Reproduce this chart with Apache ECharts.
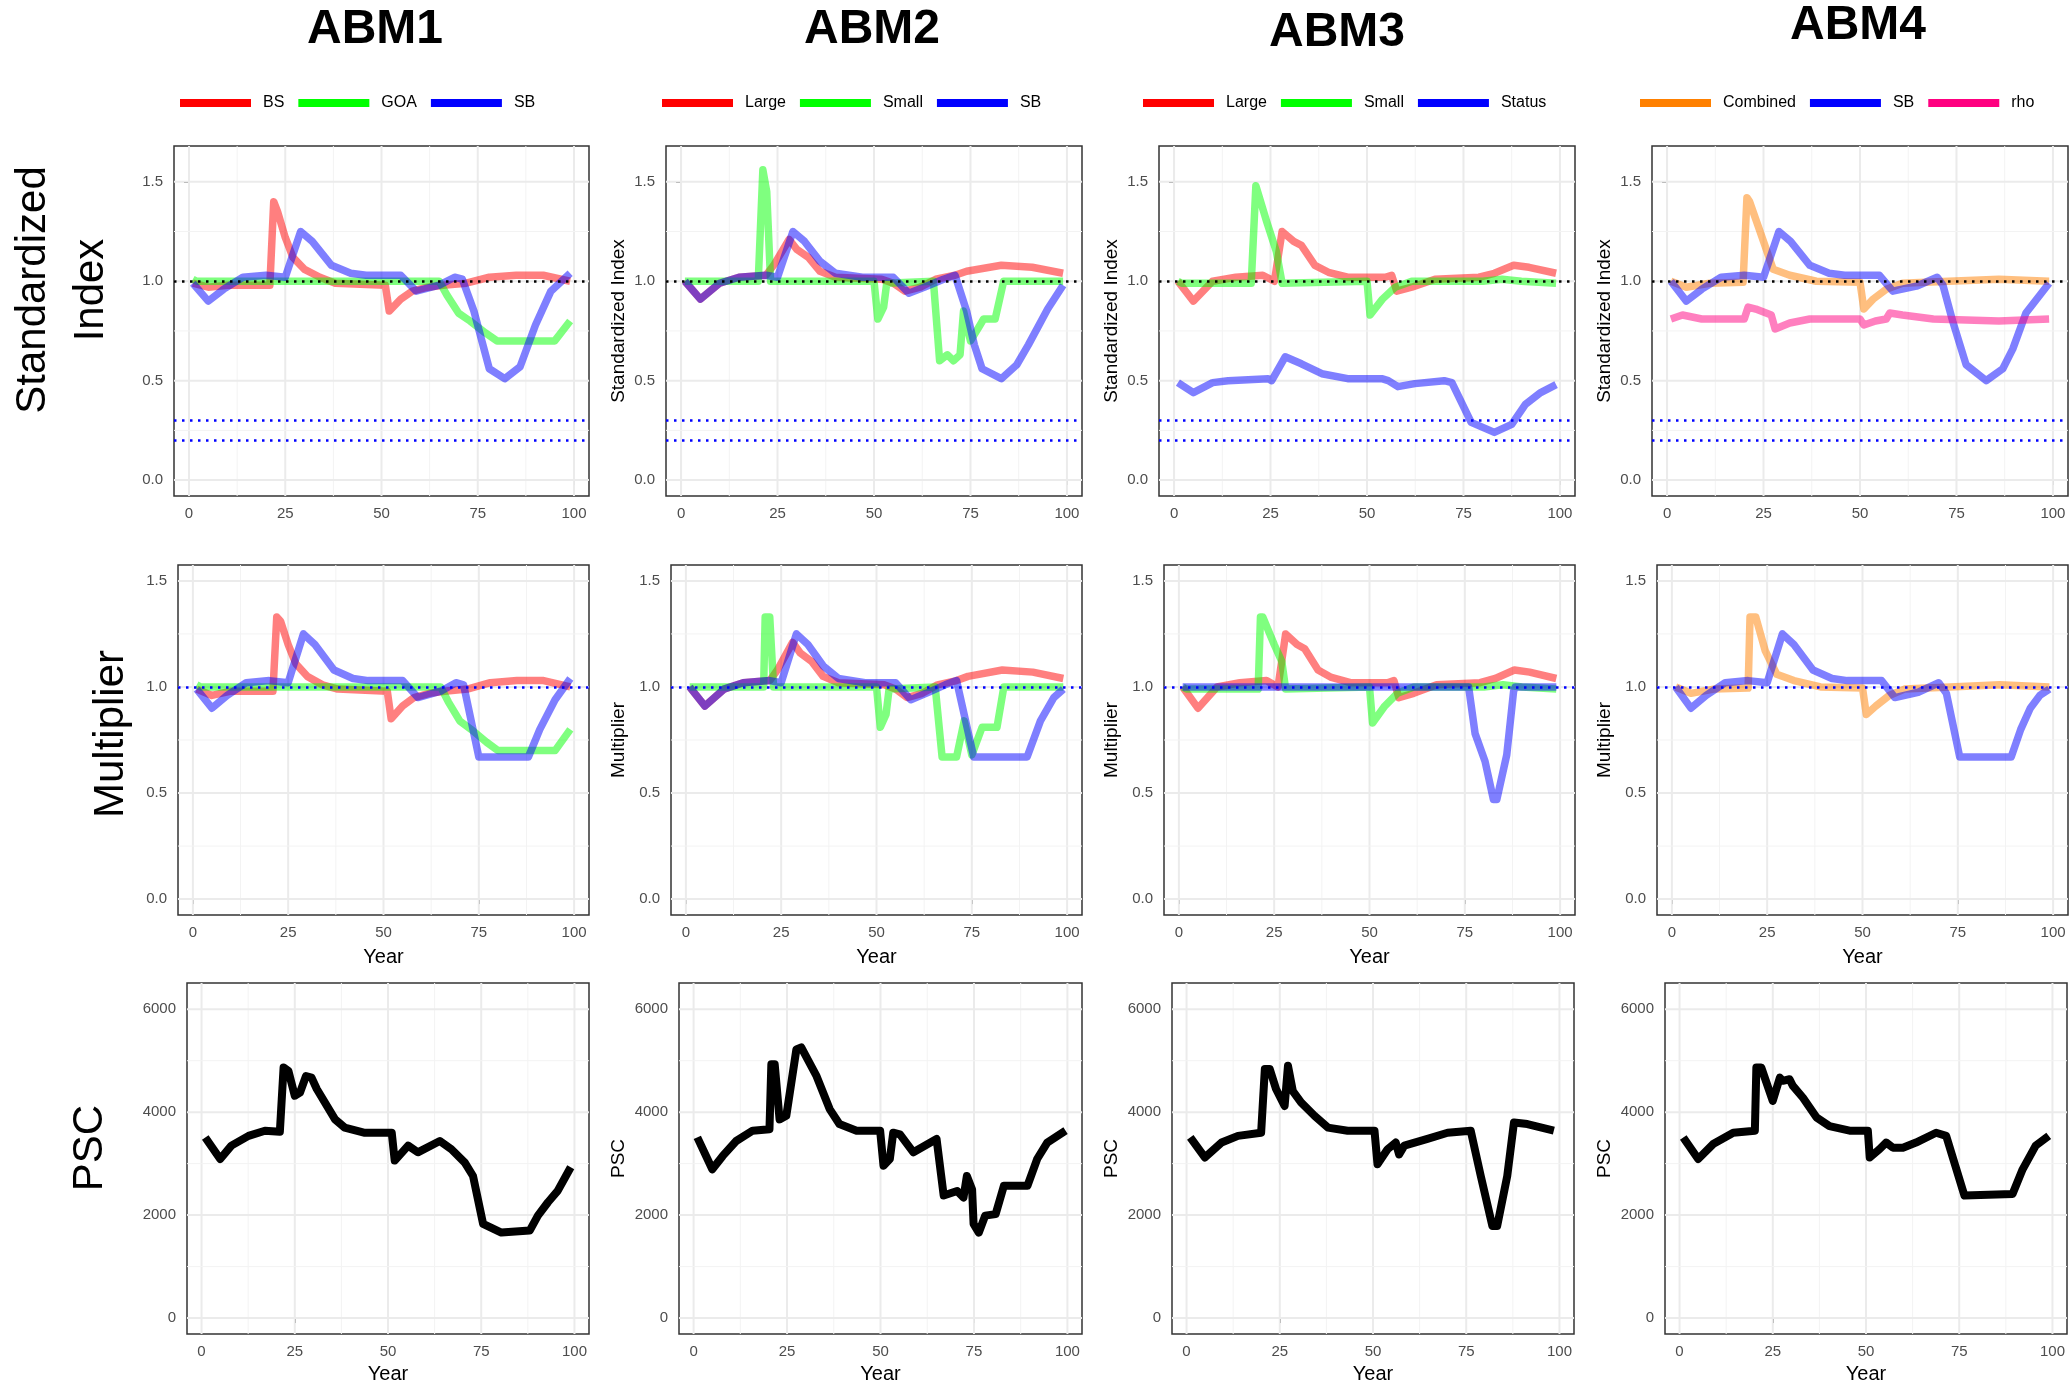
<!DOCTYPE html>
<html>
<head>
<meta charset="utf-8">
<script src="https://cdn.jsdelivr.net/npm/echarts@6/dist/echarts.min.js"></script>
<style>
  html, body { margin: 0; padding: 0; background: #fff; }
  #chart { width: 2069px; height: 1391px; }
</style>
</head>
<body>
<div id="chart"></div>
<script>
// tick labels
const yearTicks = [0, 25, 50, 75, 100]
const yearMinor = [12.5, 37.5, 62.5, 87.5]
const ratioTicks = [0, 0.5, 1, 1.5]
const ratioMinor = [0.25, 0.75, 1.25]
const pscTicks = [0, 2000, 4000, 6000]
const pscMinor = [1000, 3000, 5000]

const modelNames = ['ABM1', 'ABM2', 'ABM3', 'ABM4']
const legendNames = [
  ['BS', 'GOA', 'SB'],
  ['Large', 'Small', 'SB'],
  ['Large', 'Small', 'Status'],
  ['Combined', 'SB', 'rho']
]

// ---- ABM1 ----
const abm1IdxBS = [[1, 0.99], [5, 0.97], [10, 0.98], [21, 0.98], [22, 1.40], [23, 1.35], [25, 1.22], [27, 1.12], [30, 1.06], [34, 1.02], [38, 0.99], [51, 0.98], [52, 0.85], [55, 0.91], [58, 0.95], [62, 0.97], [66, 0.98], [72, 0.99], [78, 1.02], [85, 1.03], [92, 1.03], [99, 1.00]]
const abm1IdxGOA = [[1, 1.01], [2, 1.0], [65, 1.0], [67, 0.93], [70, 0.84], [73, 0.80], [77, 0.74], [80, 0.70], [95, 0.70], [99, 0.80]]
const abm1IdxSB = [[1, 0.99], [5, 0.90], [9, 0.96], [14, 1.02], [20, 1.03], [25, 1.02], [29, 1.25], [32, 1.20], [37, 1.08], [42, 1.04], [46, 1.03], [55, 1.03], [59, 0.95], [65, 0.98], [69, 1.02], [71, 1.01], [74, 0.85], [78, 0.56], [82, 0.51], [86, 0.57], [90, 0.78], [94, 0.95], [99, 1.04]]
const abm1MulBS = [[1, 0.99], [5, 0.96], [10, 0.98], [21, 0.98], [22, 1.33], [23, 1.31], [25, 1.20], [27, 1.11], [30, 1.05], [34, 1.01], [38, 0.99], [51, 0.98], [52, 0.85], [55, 0.91], [58, 0.95], [62, 0.97], [66, 0.98], [72, 0.99], [78, 1.02], [85, 1.03], [92, 1.03], [99, 1.00]]
const abm1MulGOA = [[1, 1.01], [2, 1.0], [65, 1.0], [67, 0.93], [70, 0.84], [73, 0.80], [77, 0.74], [80, 0.70], [95, 0.70], [99, 0.80]]
const abm1MulSB = [[1, 0.99], [5, 0.90], [9, 0.96], [14, 1.02], [20, 1.03], [25, 1.02], [29, 1.25], [32, 1.20], [37, 1.08], [42, 1.04], [46, 1.03], [55, 1.03], [59, 0.95], [65, 0.98], [69, 1.02], [71, 1.01], [75, 0.67], [88, 0.67], [91, 0.80], [95, 0.94], [99, 1.04]]
const abm1PSC = [[1, 3510], [5, 3090], [8, 3350], [12.6, 3540], [17, 3640], [21, 3620], [22, 4870], [23.3, 4800], [25, 4320], [26.4, 4380], [28, 4700], [29.5, 4670], [30.9, 4450], [35.8, 3860], [38.4, 3700], [43.8, 3600], [51, 3600], [51.8, 3060], [55.4, 3350], [58, 3220], [63.9, 3440], [67, 3280], [70.6, 3020], [72.8, 2760], [75.5, 1830], [80.4, 1660], [88, 1700], [90.2, 1990], [92.9, 2250], [95.5, 2470], [99, 2930]]

// ---- ABM2 ----
const abm2IdxLarge = [[1, 1.0], [5, 0.91], [10, 0.99], [15, 1.02], [22, 1.03], [24, 1.08], [28, 1.21], [30, 1.16], [33, 1.12], [36, 1.05], [40, 1.02], [52, 1.01], [55, 0.99], [58, 0.95], [62, 0.97], [66, 1.01], [71, 1.03], [74, 1.05], [83, 1.08], [91, 1.07], [99, 1.04]]
const abm2IdxSmall = [[1, 1.0], [20, 1.0], [21.2, 1.56], [22.2, 1.45], [23.2, 1.0], [50, 1.0], [51, 0.81], [52.5, 0.87], [53.3, 0.99], [65.4, 1.0], [67, 0.60], [69, 0.63], [70.6, 0.60], [72.3, 0.63], [73.2, 0.85], [75, 0.70], [77.5, 0.78], [78.4, 0.81], [81.4, 0.81], [83.6, 1.0], [99, 1.0]]
const abm2IdxSB = [[1, 1.0], [5, 0.91], [10, 0.99], [15, 1.02], [22, 1.03], [25, 1.02], [29, 1.25], [32, 1.20], [36, 1.10], [40, 1.04], [47, 1.02], [55, 1.02], [59, 0.94], [63, 0.97], [68, 1.01], [71, 1.03], [74, 0.85], [76, 0.68], [78, 0.56], [83, 0.51], [87, 0.58], [90, 0.68], [95, 0.86], [99, 0.98]]
const abm2MulLarge = [[1, 1.0], [5, 0.91], [10, 0.99], [15, 1.02], [22, 1.03], [24, 1.08], [28, 1.21], [30, 1.16], [33, 1.12], [36, 1.05], [40, 1.02], [52, 1.01], [55, 0.99], [58, 0.95], [62, 0.97], [66, 1.01], [71, 1.03], [74, 1.05], [83, 1.08], [91, 1.07], [99, 1.04]]
const abm2MulSmall = [[1, 1.0], [20.4, 1.0], [20.8, 1.33], [22, 1.33], [23, 1.0], [50, 1.0], [51, 0.81], [52.5, 0.87], [53.3, 0.99], [65.4, 1.0], [67.2, 0.67], [71, 0.67], [73, 0.84], [75, 0.68], [77.7, 0.81], [81.6, 0.81], [83.4, 1.0], [99, 1.0]]
const abm2MulSB = [[1, 1.0], [5, 0.91], [10, 0.99], [15, 1.02], [22, 1.03], [25, 1.02], [29, 1.25], [32, 1.20], [36, 1.10], [40, 1.04], [47, 1.02], [55, 1.02], [59, 0.94], [63, 0.97], [68, 1.01], [71, 1.03], [75.5, 0.67], [89.5, 0.67], [93, 0.84], [96.5, 0.95], [99, 0.99]]
const abm2PSC = [[1, 3510], [5, 2890], [7.8, 3150], [11.4, 3440], [15.8, 3640], [20.3, 3670], [20.8, 4930], [21.7, 4930], [23, 3860], [24.8, 3930], [27.5, 5220], [28.8, 5260], [32.9, 4700], [36.4, 4060], [39, 3770], [43.6, 3640], [49.9, 3640], [50.8, 2960], [52.5, 3090], [53.4, 3600], [55.2, 3570], [58.8, 3220], [65, 3480], [66.9, 2380], [70.5, 2470], [72.2, 2340], [73.1, 2760], [74.5, 2500], [74.9, 1830], [76.3, 1660], [78, 1990], [80.8, 2020], [83, 2570], [89.3, 2570], [91.9, 3090], [94.6, 3410], [99.5, 3640]]

// ---- ABM3 ----
const abm3IdxLarge = [[1, 1.0], [5, 0.90], [10, 1.0], [16, 1.02], [23, 1.03], [26, 1.0], [28, 1.25], [31, 1.20], [33, 1.18], [36.5, 1.08], [40, 1.045], [45, 1.02], [54.7, 1.02], [56.4, 1.03], [57.7, 0.95], [61.6, 0.97], [67.6, 1.01], [79, 1.02], [83, 1.04], [88, 1.08], [92, 1.07], [99, 1.04]]
const abm3IdxSmall = [[1, 1.0], [2, 0.99], [20, 0.99], [21.2, 1.48], [24, 1.30], [26.5, 1.15], [28, 0.99], [50, 1.0], [50.8, 0.83], [54, 0.91], [57.3, 0.97], [61.6, 1.0], [80, 1.0], [85, 1.01], [90, 1.0], [99, 0.99]]
const abm3IdxStatus = [[1, 0.49], [5, 0.44], [10, 0.49], [14, 0.50], [24.4, 0.51], [25.3, 0.50], [28.8, 0.62], [33, 0.585], [38.3, 0.535], [45, 0.51], [53.8, 0.51], [55.5, 0.50], [58, 0.47], [62.4, 0.485], [70, 0.50], [72, 0.49], [77, 0.29], [83, 0.24], [87.5, 0.28], [91, 0.38], [95, 0.44], [99, 0.48]]
const abm3MulLarge = [[1, 1.0], [5, 0.90], [10, 1.0], [16, 1.02], [23, 1.03], [26, 1.0], [28, 1.25], [31, 1.20], [33, 1.18], [36.5, 1.08], [40, 1.045], [45, 1.02], [54.7, 1.02], [56.4, 1.03], [57.7, 0.95], [61.6, 0.97], [67.6, 1.01], [79, 1.02], [83, 1.04], [88, 1.08], [92, 1.07], [99, 1.04]]
const abm3MulSmall = [[1, 1.0], [2, 0.99], [20.8, 0.99], [21.4, 1.33], [22, 1.33], [25, 1.20], [27, 1.12], [28, 0.99], [50, 1.0], [50.8, 0.83], [54, 0.91], [57.3, 0.97], [61.6, 1.0], [80, 1.0], [85, 1.01], [90, 1.0], [99, 0.99]]
const abm3MulStatus = [[1, 1.0], [76, 1.0], [77.7, 0.78], [80.3, 0.65], [82.5, 0.47], [83.4, 0.47], [86, 0.68], [87.8, 0.98], [88.2, 1.0], [99, 1.0]]
const abm3PSC = [[1, 3510], [4.9, 3120], [9.4, 3410], [13.8, 3540], [20, 3600], [21, 4840], [22.3, 4840], [24, 4450], [26.3, 4120], [27.2, 4900], [28.5, 4410], [30.7, 4190], [34.3, 3930], [37.9, 3700], [43.2, 3640], [50.4, 3640], [51.2, 2990], [53.9, 3280], [56.1, 3410], [57, 3180], [58.4, 3350], [64.6, 3480], [70, 3600], [76.2, 3640], [78.9, 2760], [82, 1790], [83.3, 1790], [86, 2760], [87.8, 3800], [91.4, 3770], [98.5, 3640]]

// ---- ABM4 ----
const abm4IdxCombined = [[1, 1.0], [5, 0.97], [11, 0.99], [19.7, 0.995], [20.7, 1.42], [21.4, 1.40], [25, 1.20], [27.5, 1.06], [31.8, 1.03], [38.7, 1.0], [50, 0.995], [51, 0.86], [53.4, 0.91], [56.8, 0.96], [61, 0.99], [73, 1.0], [86, 1.01], [99, 1.0]]
const abm4IdxSB = [[1, 1.0], [5, 0.90], [9, 0.96], [14, 1.02], [20, 1.03], [25, 1.02], [29, 1.25], [32, 1.20], [37, 1.08], [42, 1.04], [46, 1.03], [55, 1.03], [58.5, 0.95], [64.6, 0.975], [70, 1.02], [71.5, 0.98], [74, 0.80], [77.5, 0.58], [82.7, 0.50], [87, 0.56], [89.6, 0.66], [93, 0.84], [99, 0.99]]
const abm4IdxRho = [[1, 0.81], [4, 0.83], [9, 0.81], [20, 0.81], [21, 0.87], [23, 0.86], [27, 0.83], [28, 0.76], [31.8, 0.79], [37, 0.81], [50, 0.81], [51, 0.78], [54, 0.80], [56.8, 0.81], [57.7, 0.84], [61, 0.83], [69, 0.81], [86, 0.80], [99, 0.81]]
const abm4MulCombined = [[1, 1.0], [5, 0.97], [11, 0.99], [20, 0.995], [20.5, 1.33], [22, 1.33], [24.5, 1.17], [27.5, 1.06], [32, 1.03], [39, 1.0], [50, 0.995], [51, 0.87], [53.5, 0.91], [57, 0.96], [61, 0.99], [73, 1.0], [86, 1.01], [99, 1.0]]
const abm4MulSB = [[1, 1.0], [5, 0.90], [9, 0.96], [14, 1.02], [20, 1.03], [25, 1.02], [29, 1.25], [32, 1.20], [37, 1.08], [42, 1.04], [46, 1.03], [55, 1.03], [58.5, 0.95], [64.6, 0.975], [70, 1.02], [72, 0.97], [75.5, 0.67], [89, 0.67], [91.5, 0.80], [94, 0.90], [96.5, 0.96], [99, 0.99]]
const abm4PSC = [[1, 3510], [5, 3090], [9, 3380], [14.4, 3600], [20.2, 3640], [20.6, 4870], [21.9, 4870], [25, 4220], [26.9, 4670], [27.7, 4610], [29.5, 4640], [30.4, 4510], [33.1, 4280], [36.7, 3900], [40.2, 3730], [45.6, 3640], [50.5, 3640], [51, 3120], [53.6, 3280], [55.4, 3410], [57.2, 3310], [59.9, 3310], [63.4, 3410], [68.8, 3600], [71.5, 3540], [76.4, 2380], [89.3, 2410], [92, 2890], [95.5, 3350], [99, 3540]]

const colors = {
  BS: '#FF0000', GOA: '#00FF00', SB: '#0000FF', Large: '#FF0000', Small: '#00FF00',
  Status: '#0000FF', Combined: '#FF8000', rho: '#FF0080', PSC: '#000000'
}

// panel contents: [row][col] -> list of [name, data]
const panels = [
  [
    [['BS', abm1IdxBS], ['GOA', abm1IdxGOA], ['SB', abm1IdxSB]],
    [['Large', abm2IdxLarge], ['Small', abm2IdxSmall], ['SB', abm2IdxSB]],
    [['Large', abm3IdxLarge], ['Small', abm3IdxSmall], ['Status', abm3IdxStatus]],
    [['Combined', abm4IdxCombined], ['SB', abm4IdxSB], ['rho', abm4IdxRho]]
  ],
  [
    [['BS', abm1MulBS], ['GOA', abm1MulGOA], ['SB', abm1MulSB]],
    [['Large', abm2MulLarge], ['Small', abm2MulSmall], ['SB', abm2MulSB]],
    [['Large', abm3MulLarge], ['Small', abm3MulSmall], ['Status', abm3MulStatus]],
    [['Combined', abm4MulCombined], ['SB', abm4MulSB]]
  ],
  [
    [['PSC', abm1PSC]],
    [['PSC', abm2PSC]],
    [['PSC', abm3PSC]],
    [['PSC', abm4PSC]]
  ]
]

// layout (pixels)
const FONT = "'Liberation Sans', Arial, sans-serif"
const boxLeft = [[174, 666, 1159, 1652], [178, 671, 1164, 1657], [187, 679, 1172, 1665]]
const boxRight = [[589, 1082, 1575, 2068], [589, 1082, 1575, 2068], [589, 1082, 1574, 2067]]
const boxTop = [146, 565, 983]
const boxBottom = [496, 915, 1334]
const rowSetup = [
  { yMin: -0.08, yMax: 1.68, ticks: ratioTicks, minor: ratioMinor, yName: 'Standardized Index', yGap: 38, xName: '', xGap: 0, refs: [[1, '#000000'], [0.3, '#0000FF'], [0.2, '#0000FF']], width: 7.5 },
  { yMin: -0.075, yMax: 1.575, ticks: ratioTicks, minor: ratioMinor, yName: 'Multiplier', yGap: 43, xName: 'Year', xGap: 32, refs: [[1, '#0000FF']], width: 7.5 },
  { yMin: -310, yMax: 6510, ticks: pscTicks, minor: pscMinor, yName: 'PSC', yGap: 51, xName: 'Year', xGap: 30, refs: [], width: 8 }
]
const legendLeft = [175, 657, 1138, 1635]
const titlePos = [[375, 30], [872, 30], [1337, 33], [1858, 26]]

function gridLineItem(params, api) {
  const cs = params.coordSys
  const dir = api.value(0)
  const v = api.value(1)
  const major = api.value(2) === 1
  const style = { stroke: major ? '#EBEBEB' : '#F3F3F3', lineWidth: major ? 2 : 1 }
  let shape
  if (dir === 0) {
    const x = api.coord([v, 0])[0]
    shape = { x1: x, y1: cs.y, x2: x, y2: cs.y + cs.height }
  } else {
    const y = api.coord([0, v])[1]
    shape = { x1: cs.x, y1: y, x2: cs.x + cs.width, y2: y }
  }
  return { type: 'line', shape: shape, style: style, silent: true }
}

const grids = []
const xAxes = []
const yAxes = []
const series = []

rowSetup.forEach((rs, r) => {
  for (let c = 0; c < 4; c++) {
    const gi = grids.length
    grids.push({
      left: boxLeft[r][c], top: boxTop[r],
      width: boxRight[r][c] - boxLeft[r][c], height: boxBottom[r] - boxTop[r],
      show: true, borderColor: '#333333', borderWidth: 1.5, backgroundColor: '#FFFFFF',
      containLabel: false, outerBoundsMode: 'none'
    })
    xAxes.push({
      type: 'value', gridIndex: gi, min: -3.9, max: 103.9,
      axisLine: { show: false }, splitLine: { show: false },
      axisTick: { show: true, length: 5, customValues: yearTicks, lineStyle: { color: '#333333' } },
      axisLabel: { customValues: yearTicks, fontSize: 15, color: '#4D4D4D', margin: 10, fontFamily: FONT },
      name: rs.xName, nameLocation: 'middle', nameGap: rs.xGap,
      nameTextStyle: { fontSize: 20, color: '#000000', fontFamily: FONT }
    })
    yAxes.push({
      type: 'value', gridIndex: gi, min: rs.yMin, max: rs.yMax,
      axisLine: { show: false }, splitLine: { show: false },
      axisTick: { show: true, length: 5, customValues: rs.ticks, lineStyle: { color: '#333333' } },
      axisLabel: {
        customValues: rs.ticks, fontSize: 15, color: '#4D4D4D', margin: 11, fontFamily: FONT,
        formatter: v => (r < 2 ? v.toFixed(1) : String(v))
      },
      name: c === 0 ? '' : rs.yName, nameLocation: 'middle', nameGap: rs.yGap, nameMoveOverlap: false,
      nameTextStyle: { fontSize: 19, color: '#000000', fontFamily: FONT }
    })
    // panel grid lines
    const glData = []
    yearTicks.forEach(v => glData.push([0, v, 1]))
    yearMinor.forEach(v => glData.push([0, v, 0]))
    rs.ticks.forEach(v => glData.push([1, v, 1]))
    rs.minor.forEach(v => glData.push([1, v, 0]))
    series.push({
      type: 'custom', xAxisIndex: gi, yAxisIndex: gi, z: 1, silent: true,
      renderItem: gridLineItem, data: glData
    })
    const lines = panels[r][c]
    lines.forEach(([name, data], k) => {
      const col = colors[name]
      const s = {
        type: 'line', name: name, xAxisIndex: gi, yAxisIndex: gi, z: 2,
        data: data, showSymbol: false, symbol: 'none', color: col,
        lineStyle: { color: col, width: rs.width, opacity: name === 'PSC' ? 1 : 0.5, join: 'round', cap: 'butt' },
        silent: true
      }
      if (k === lines.length - 1 && rs.refs.length) {
        s.markLine = {
          silent: true, symbol: 'none', label: { show: false },
          lineStyle: { type: [2.5, 5.5], width: 2.5 },
          data: rs.refs.map(([v, clr]) => ({ yAxis: v, lineStyle: { color: clr, type: [2.5, 5.5], width: 2.5 } }))
        }
      }
      series.push(s)
    })
  }
})

const legends = legendNames.map((names, c) => ({
  left: legendLeft[c], top: 90, orient: 'horizontal', icon: 'rect',
  itemWidth: 71, itemHeight: 8, itemGap: 14, selectedMode: false,
  textStyle: { fontSize: 16, color: '#000000', fontFamily: FONT, padding: [0, 0, 0, 7] },
  data: names.map(n => ({ name: n, itemStyle: { color: colors[n], opacity: 1 } }))
}))

const graphics = []
modelNames.forEach((t, c) => {
  graphics.push({
    type: 'text', x: titlePos[c][0], y: titlePos[c][1], silent: true,
    style: { text: t, fontSize: 48, fontWeight: 'bold', fontFamily: FONT, fill: '#000000', align: 'center', verticalAlign: 'middle' }
  })
})
const rowLabels = [['Standardized\nIndex', 62, 290], ['Multiplier', 111, 734], ['PSC', 90, 1148]]
rowLabels.forEach(([t, x, y]) => {
  graphics.push({
    type: 'text', x: x, y: y, rotation: Math.PI / 2, silent: true,
    style: { text: t, fontSize: 42, fontFamily: FONT, fill: '#000000', align: 'center', verticalAlign: 'middle', lineHeight: 58 }
  })
})

const chart = echarts.init(document.getElementById('chart'), null, { renderer: 'canvas' })
chart.setOption({
  backgroundColor: '#FFFFFF',
  animation: false,
  textStyle: { fontFamily: FONT },
  grid: grids,
  xAxis: xAxes,
  yAxis: yAxes,
  legend: legends,
  graphic: graphics,
  series: series
})
</script>
</body>
</html>
